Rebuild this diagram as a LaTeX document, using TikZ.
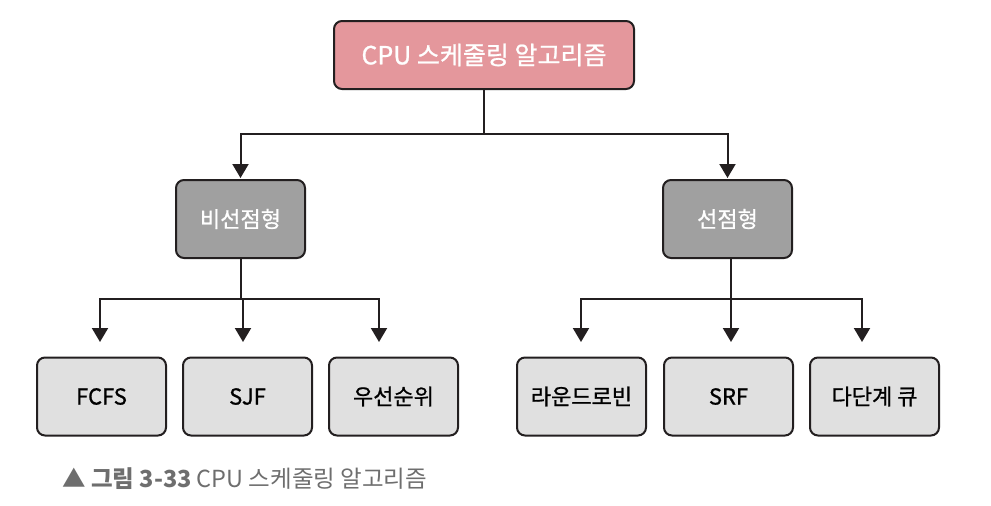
\documentclass[tikz,border=0pt]{standalone}
\usepackage{fontspec}
\setmainfont{Noto Sans CJK KR}
\newfontfamily\krfont{Noto Sans CJK KR}
\newfontfamily\krbox[FakeBold=0.9]{Noto Sans CJK KR}
\usetikzlibrary{arrows.meta}
\definecolor{toppink}{HTML}{E4979C}
\definecolor{midgray}{HTML}{A0A0A0}
\definecolor{leafgray}{HTML}{E0E0E0}
\definecolor{edgecol}{HTML}{231F20}
\definecolor{capgray}{HTML}{6E6E6E}
\tikzset{
  basebox/.style={draw=edgecol, line width=2pt, rounded corners=8pt, inner sep=0pt, font=\krbox\fontsize{22}{24}\selectfont},
  topbox/.style={basebox, fill=toppink, text=white, minimum width=300pt, minimum height=68pt, font=\krbox\fontsize{25}{27}\selectfont},
  midbox/.style={basebox, fill=midgray, text=white, minimum width=129pt, minimum height=78pt},
  leafbox/.style={basebox, fill=leafgray, text=black, minimum width=129pt, minimum height=78pt},
  conn/.style={draw=edgecol, line width=2pt},
  arr/.style={conn, -{Triangle[width=16pt,length=14pt]}},
}
\begin{document}
\begin{tikzpicture}[x=1pt,y=-1pt]
\useasboundingbox (0,0) rectangle (991,506);
\node[topbox] (top) at (484,55) {CPU 스케줄링 알고리즘};
\node[midbox] (np) at (240.5,219) {비선점형};
\node[midbox] (pr) at (727.5,219) {선점형};
\node[leafbox] (fcfs) at (101.5,396.5) {FCFS};
\node[leafbox] (sjf) at (247.5,396.5) {SJF};
\node[leafbox] (prio) at (393.5,396.5) {우선순위};
\node[leafbox] (rr) at (581.5,396.5) {라운드로빈};
\node[leafbox] (srf) at (728.5,396.5) {SRF};
\node[leafbox] (mlq) at (874.5,396.5) {다단계 큐};
% branch coordinates
\coordinate (tj) at (484,134);
\coordinate (npt) at (240.5,178);
\coordinate (prt) at (727.5,178);
\coordinate (lj) at (240.5,299);
\coordinate (rj) at (731,299);
\coordinate (t1) at (100,342);
\coordinate (t2) at (243,342);
\coordinate (t3) at (379,342);
\coordinate (t4) at (581,342);
\coordinate (t5) at (731,342);
\coordinate (t6) at (862,342);
% top level
\draw[conn] (top.south) -- (tj);
\draw[arr] (tj) -| (npt);
\draw[arr] (tj) -| (prt);
% left branch
\draw[conn] (np.south) -- (lj);
\draw[arr] (lj) -| (t1);
\draw[arr] (lj) -| (t2);
\draw[arr] (lj) -| (t3);
% right branch
\draw[conn] (pr.south -| rj) -- (rj);
\draw[arr] (rj) -| (t4);
\draw[arr] (rj) -- (t5);
\draw[arr] (rj) -| (t6);
% caption
\node[anchor=west, text=capgray, inner sep=0pt, font=\krfont\fontsize{23.5}{26}\selectfont] (cap) at (62,479)
  {\textbf{▲ 그림 3-33} CPU 스케줄링 알고리즘};
\end{tikzpicture}
\end{document}
